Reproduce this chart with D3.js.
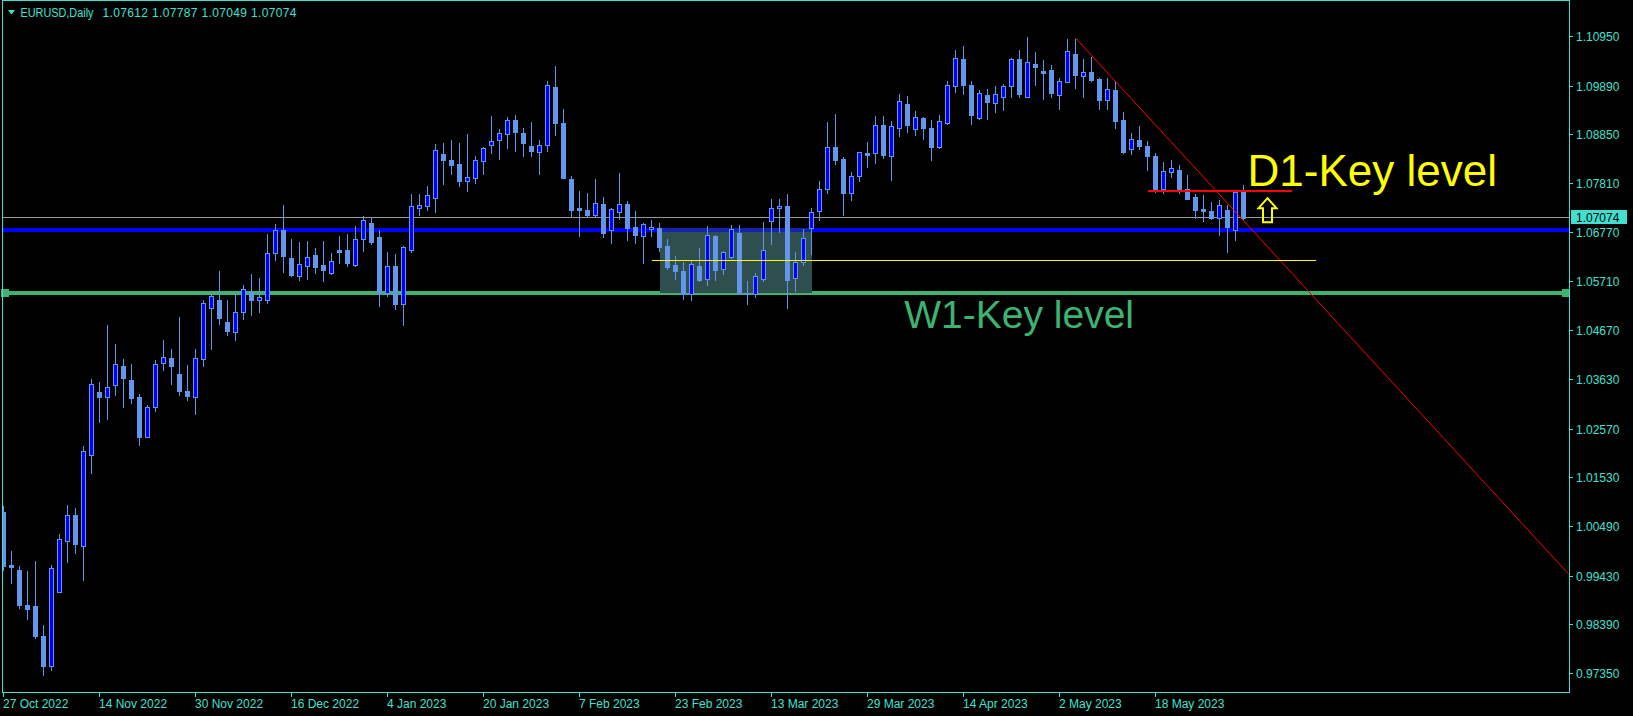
<!DOCTYPE html>
<html><head><meta charset="utf-8">
<script src="https://cdn.jsdelivr.net/npm/d3@7"></script>
<style>html,body{margin:0;padding:0;background:#000;overflow:hidden}svg{display:block}</style>
</head><body>
<svg id="c" width="1633" height="716"></svg>
<script>
// ---------- DATA ----------
const symbolTitle = "EURUSD,Daily";
const lastBarText = "1.07612 1.07787 1.07049 1.07074";

const opens = [1.0078,0.9966,0.9955,0.9880,0.9878,0.9814,0.9749,0.9909,1.0016,1.0073,
1.0007,1.0201,1.0335,1.0325,1.0350,1.0390,1.0360,1.0325,1.0240,1.0302,
1.0396,1.0407,1.0373,1.0337,1.0325,1.0406,1.0515,1.0531,1.0485,1.0463,
1.0505,1.0549,1.0531,1.0531,1.0631,1.0680,1.0621,1.0582,1.0605,1.0628,
1.0606,1.0590,1.0638,1.0638,1.0607,1.0661,1.0695,1.0666,1.0546,1.0604,
1.0522,1.0639,1.0727,1.0733,1.0750,1.0843,1.0831,1.0822,1.0786,1.0791,
1.0828,1.0863,1.0873,1.0885,1.0915,1.0888,1.0860,1.0847,1.0862,1.0986,
1.0910,1.0790,1.0728,1.0724,1.0712,1.0737,1.0680,1.0720,1.0736,1.0687,
1.0669,1.0684,1.0685,1.0647,1.0606,1.0594,1.0544,1.0604,1.0576,1.0668,
1.0597,1.0624,1.0675,1.0547,1.0544,1.0577,1.0700,1.0727,1.0732,1.0578,
1.0612,1.0686,1.0722,1.0768,1.0858,1.0833,1.0760,1.0797,1.0845,1.0845,
1.0905,1.0840,1.0899,1.0950,1.0897,1.0920,1.0899,1.0859,1.0909,1.0989,
1.1046,1.0991,1.0921,1.0969,1.0953,1.0964,1.0989,1.1046,1.0964,1.1035,
1.1021,1.1023,1.0969,1.0998,1.1057,1.1009,1.1018,1.1003,1.0959,1.0980,
1.0916,1.0853,1.0873,1.0860,1.0839,1.0768,1.0804,1.0809,1.0768,1.0752,
1.0726,1.0722,1.0707,1.0724,1.0682,1.07612];
const highs = [1.0094,0.9998,0.9966,0.9955,0.9977,0.9840,0.9968,1.0034,1.0096,1.0090,
1.0222,1.0365,1.0359,1.0480,1.0439,1.0408,1.0397,1.0332,1.0310,1.0406,
1.0448,1.0429,1.0497,1.0394,1.0429,1.0534,1.0546,1.0596,1.0534,1.0549,
1.0566,1.0589,1.0581,1.0675,1.0696,1.0737,1.0664,1.0658,1.0660,1.0645,
1.0660,1.0634,1.0670,1.0675,1.0692,1.0713,1.0708,1.0683,1.0636,1.0632,
1.0648,1.0760,1.0760,1.0777,1.0867,1.0869,1.0875,1.0869,1.0888,1.0841,
1.0860,1.0927,1.0899,1.0924,1.0929,1.0901,1.0914,1.0875,1.1001,1.1033,
1.0942,1.0798,1.0766,1.0762,1.0792,1.0754,1.0730,1.0805,1.0744,1.0724,
1.0698,1.0704,1.0698,1.0664,1.0628,1.0615,1.0619,1.0645,1.0692,1.0673,
1.0638,1.0694,1.0694,1.0574,1.0591,1.0700,1.0749,1.0749,1.0760,1.0636,
1.0685,1.0731,1.0788,1.0914,1.0931,1.0839,1.0806,1.0850,1.0871,1.0927,
1.0927,1.0916,1.0974,1.0969,1.0937,1.0924,1.0918,1.0929,1.1001,1.1068,
1.1076,1.1001,1.0982,1.0984,1.0991,1.0995,1.1050,1.1068,1.1095,1.1063,
1.1046,1.1035,1.1008,1.1091,1.1091,1.1048,1.1053,1.1008,1.1008,1.0999,
1.0935,1.0890,1.0905,1.0873,1.0848,1.0828,1.0832,1.0822,1.0801,1.0759,
1.0758,1.0743,1.0747,1.0737,1.0768,1.07787];
const lows = [0.9955,0.9927,0.9873,0.9851,0.9810,0.9730,0.9742,0.9907,0.9971,0.9992,
0.9934,1.0163,1.0270,1.0278,1.0329,1.0304,1.0312,1.0221,1.0238,1.0295,
1.0381,1.0352,1.0329,1.0319,1.0288,1.0391,1.0427,1.0480,1.0457,1.0446,
1.0490,1.0500,1.0505,1.0526,1.0617,1.0592,1.0582,1.0575,1.0577,1.0590,
1.0573,1.0586,1.0611,1.0605,1.0605,1.0637,1.0650,1.0519,1.0539,1.0513,
1.0479,1.0635,1.0712,1.0724,1.0720,1.0779,1.0801,1.0774,1.0765,1.0782,
1.0801,1.0846,1.0833,1.0857,1.0850,1.0838,1.0838,1.0801,1.0850,1.0884,
1.0791,1.0709,1.0669,1.0709,1.0709,1.0665,1.0654,1.0705,1.0660,1.0653,
1.0611,1.0668,1.0636,1.0598,1.0576,1.0534,1.0532,1.0572,1.0564,1.0574,
1.0587,1.0621,1.0545,1.0524,1.0537,1.0573,1.0650,1.0677,1.0515,1.0551,
1.0606,1.0630,1.0702,1.0759,1.0822,1.0713,1.0745,1.0785,1.0816,1.0823,
1.0835,1.0788,1.0882,1.0891,1.0884,1.0876,1.0831,1.0857,1.0908,1.0976,
1.0972,1.0908,1.0918,1.0917,1.0932,1.0938,1.0966,1.0964,1.0964,1.0991,
1.0961,1.0964,1.0940,1.0997,1.0985,1.0966,1.1000,1.0940,1.0940,1.0899,
1.0845,1.0843,1.0854,1.0809,1.0762,1.0759,1.0795,1.0759,1.0747,1.0707,
1.0700,1.0705,1.0670,1.0635,1.0660,1.07049];
const closes = [0.9964,0.9962,0.9880,0.9872,0.9813,0.9749,0.9959,1.0021,1.0073,1.0011,
1.0209,1.0352,1.0325,1.0345,1.0394,1.0364,1.0323,1.0240,1.0303,1.0394,
1.0409,1.0391,1.0338,1.0327,1.0407,1.0525,1.0540,1.0492,1.0466,1.0505,
1.0554,1.0532,1.0537,1.0631,1.0680,1.0626,1.0584,1.0608,1.0623,1.0603,
1.0596,1.0614,1.0635,1.0611,1.0661,1.0702,1.0656,1.0547,1.0604,1.0522,
1.0644,1.0732,1.0734,1.0756,1.0852,1.0831,1.0820,1.0786,1.0794,1.0830,
1.0856,1.0870,1.0888,1.0915,1.0891,1.0867,1.0850,1.0862,1.0990,1.0910,
1.0793,1.0724,1.0724,1.0713,1.0738,1.0675,1.0725,1.0736,1.0686,1.0671,
1.0693,1.0687,1.0645,1.0602,1.0594,1.0544,1.0608,1.0574,1.0670,1.0596,
1.0633,1.0683,1.0547,1.0544,1.0582,1.0638,1.0727,1.0732,1.0575,1.0612,
1.0663,1.0719,1.0768,1.0858,1.0831,1.0760,1.0797,1.0847,1.0841,1.0905,
1.0841,1.0902,1.0956,1.0906,1.0922,1.0899,1.0859,1.0913,1.0990,1.1048,
1.0991,1.0927,1.0973,1.0955,1.0971,1.0988,1.1046,1.0972,1.1039,1.1028,
1.1017,1.0974,1.0999,1.1063,1.1011,1.1018,1.1001,1.0959,1.0981,1.0914,
1.0848,1.0875,1.0860,1.0838,1.0769,1.0806,1.0813,1.0769,1.0748,1.0724,
1.0722,1.0707,1.0734,1.0687,1.0762,1.07074];

const dateTickIndex = [0,12,24,36,48,60,72,84,96,108,120,132,144];
const dateTickLabels = ["27 Oct 2022","14 Nov 2022","30 Nov 2022","16 Dec 2022","4 Jan 2023","20 Jan 2023","7 Feb 2023","23 Feb 2023","13 Mar 2023","29 Mar 2023","14 Apr 2023","2 May 2023","18 May 2023"];
const priceTickLabels = ["1.10950","1.09890","1.08850","1.07810","1.06770","1.05710","1.04670","1.03630","1.02570","1.01530","1.00490","0.99430","0.98390","0.97350"];

const bidPrice = 1.07074;
const blueLevel = 1.0682;
const greenLevel = 1.05465;
const d1Level = 1.0765, d1Range = [143, 161];
const yellowLevel = 1.0616, yellowRange = [81, 164];
const zoneRange = [82, 101], zonePrices = [1.0685, 1.0546];
const trendPoints = [[134, 1.1091], [155, 1.0701]];
const d1Label = {text: "D1-Key level", idx: 155.5, price: 1.0775};
const w1Label = {text: "W1-Key level", idx: 112.6, price: 1.0472};
const arrowAnchor = {idx: 158, price: 1.0751};

// ---------- CHART ----------
(function draw() {
const C = {axis: "#40E0D0", bull: "#0000FF", edge: "#6495ED", blue: "#0000FF", green: "#3CB371",
  red: "#FF0000", yellow: "#FFFF00", bid: "#9A9A9A", zone: "#2F4F4F"};
const pL = 2.5, pR = 1569.5, pT = 0.5, pB = 692.5;
const svg = d3.select("#c");
svg.append("rect").attr("width",1633).attr("height",716).attr("fill","#000");

const x = d3.scaleLinear().domain([-0.1875, 195.6875]).range([2, 1569]);
const y = d3.scaleLinear().domain([0.97350, 1.10950]).range([673, 36.1]);
const py = v => Math.round(y(v)) + 0.5;

svg.append("clipPath").attr("id","clip").append("rect")
  .attr("x", pL).attr("y", pT).attr("width", pR-pL).attr("height", pB-pT);
const plot = svg.append("g").attr("clip-path","url(#clip)");
const [xMin, xMax] = x.domain();

plot.append("line").attr("x1", x(xMin)).attr("x2", x(xMax)).attr("y1", Math.floor(y(bidPrice)) + 0.5).attr("y2", Math.floor(y(bidPrice)) + 0.5)
  .attr("stroke", C.bid).attr("stroke-width",1).attr("shape-rendering","crispEdges");
plot.append("line").attr("x1", x(xMin)).attr("x2", x(xMax)).attr("y1", y(blueLevel)).attr("y2", y(blueLevel))
  .attr("stroke", C.blue).attr("stroke-width",4).attr("shape-rendering","crispEdges");
plot.append("line").attr("x1", x(xMin)).attr("x2", x(xMax)).attr("y1", y(greenLevel)).attr("y2", y(greenLevel))
  .attr("stroke", C.green).attr("stroke-width",4).attr("shape-rendering","crispEdges");

const zr = plot.append("g");
zr.append("rect").attr("x", x(zoneRange[0])).attr("width", x(zoneRange[1]) - x(zoneRange[0]))
  .attr("y", y(zonePrices[0])).attr("height", y(zonePrices[1]) - y(zonePrices[0]))
  .attr("fill", C.zone).attr("opacity", 0.45).attr("shape-rendering","crispEdges");
zr.append("rect").attr("x", x(zoneRange[0])).attr("width", x(zoneRange[1]) - x(zoneRange[0]))
  .attr("y", y(blueLevel)+2).attr("height", y(zonePrices[1]) - y(blueLevel) - 2)
  .attr("fill", C.zone).attr("shape-rendering","crispEdges");

const candles = plot.append("g").attr("shape-rendering","crispEdges");
d3.range(opens.length).forEach(i => {
  const cx = x(i);
  const o = opens[i], c = closes[i], h = highs[i], l = lows[i];
  candles.append("line").attr("x1", cx).attr("x2", cx).attr("y1", py(h)).attr("y2", py(l))
    .attr("stroke", C.edge).attr("stroke-width", 1);
  const yt = py(Math.max(o, c)), yb = py(Math.min(o, c));
  const bull = c > o;
  if (yb - yt < 1) {
    candles.append("line").attr("x1", cx - 2.5).attr("x2", cx + 2.5).attr("y1", yt).attr("y2", yt)
      .attr("stroke", C.edge).attr("stroke-width", 1);
  } else {
    candles.append("rect").attr("x", cx - 2).attr("width", 4).attr("y", yt).attr("height", yb - yt)
      .attr("fill", bull ? C.bull : C.edge).attr("stroke", C.edge).attr("stroke-width", 1);
  }
});

[xMin, xMax].forEach((d, k) => {
  const cx = k === 0 ? x(d) + 3 : x(d) - 3;
  svg.append("rect").attr("x", cx - 4).attr("y", y(greenLevel) - 4).attr("width", 8).attr("height", 8)
    .attr("fill", C.green).attr("shape-rendering","crispEdges");
});

const slope = (trendPoints[1][1] - trendPoints[0][1]) / (trendPoints[1][0] - trendPoints[0][0]);
plot.append("line").attr("x1", x(trendPoints[0][0])).attr("y1", y(trendPoints[0][1]))
  .attr("x2", x(xMax)).attr("y2", y(trendPoints[0][1] + slope * (xMax - trendPoints[0][0])))
  .attr("stroke", C.red).attr("stroke-width", 1);

plot.append("line").attr("x1", x(d1Range[0])).attr("x2", x(d1Range[1])).attr("y1", y(d1Level)).attr("y2", y(d1Level))
  .attr("stroke", C.red).attr("stroke-width", 2).attr("shape-rendering","crispEdges");
plot.append("line").attr("x1", x(yellowRange[0])).attr("x2", x(yellowRange[1])).attr("y1", py(yellowLevel)).attr("y2", py(yellowLevel))
  .attr("stroke", C.yellow).attr("stroke-width", 1).attr("shape-rendering","crispEdges");

const font = "'Liberation Sans', Arial, sans-serif";
plot.append("text").attr("x", x(d1Label.idx)).attr("y", y(d1Label.price)).text(d1Label.text)
  .attr("fill", C.yellow).attr("font-family", font).attr("font-size", 44);
plot.append("text").attr("x", x(w1Label.idx)).attr("y", y(w1Label.price)).text(w1Label.text)
  .attr("fill", C.green).attr("font-family", font).attr("font-size", 39);

const ax = x(arrowAnchor.idx), ay = y(arrowAnchor.price);
plot.append("path").attr("transform", `translate(${ax},${ay})`)
  .attr("d", "M0,1 L9,11 L4.5,11 L4.5,25 L-4.5,25 L-4.5,11 L-9,11 Z")
  .attr("fill", "none").attr("stroke", C.yellow).attr("stroke-width", 2);

svg.append("rect").attr("x", pL).attr("y", pT).attr("width", pR-pL).attr("height", pB-pT)
  .attr("fill","none").attr("stroke", C.axis).attr("stroke-width",1).attr("shape-rendering","crispEdges");

const pa = svg.append("g");
priceTickLabels.forEach(t => {
  const v = +t, yy = py(v);
  pa.append("line").attr("x1", pR).attr("x2", pR + 3).attr("y1", yy).attr("y2", yy)
    .attr("stroke", C.axis).attr("shape-rendering","crispEdges");
  pa.append("text").attr("x", 1576).attr("y", yy).attr("dy","0.35em").text(t)
    .attr("fill", C.axis).attr("font-family", font).attr("font-size", 12);
});
const by = Math.floor(y(bidPrice)) + 0.5;
pa.append("rect").attr("x", 1571).attr("y", Math.floor(by) - 7).attr("width", 56).attr("height", 14)
  .attr("fill", C.axis).attr("shape-rendering","crispEdges");
pa.append("text").attr("x", 1576).attr("y", by).attr("dy","0.35em").text(bidPrice.toFixed(5))
  .attr("fill", "#000").attr("font-family", font).attr("font-size", 12);

const da = svg.append("g");
dateTickIndex.forEach((idx, k) => {
  const xx = Math.round(x(idx) - 0.5) + 0.5;
  da.append("line").attr("x1", xx).attr("x2", xx).attr("y1", pB).attr("y2", pB + 4)
    .attr("stroke", C.axis).attr("shape-rendering","crispEdges");
  da.append("text").attr("x", xx - 0.5).attr("y", 708).text(dateTickLabels[k])
    .attr("fill", C.axis).attr("font-family", font).attr("font-size", 12);
});

svg.append("path").attr("d", "M8,10 L15,10 L11.5,14.5 Z").attr("fill", C.axis);
svg.append("text").attr("x", 20.5).attr("y", 17).text(symbolTitle)
  .attr("fill", C.axis).attr("font-family", font).attr("font-size", 12)
  .attr("textLength", 73).attr("lengthAdjust","spacingAndGlyphs");
svg.append("text").attr("x", 102.5).attr("y", 17).text(lastBarText)
  .attr("fill", C.axis).attr("font-family", font).attr("font-size", 12)
  .attr("textLength", 194).attr("lengthAdjust","spacing");
})();
</script>
</body></html>
